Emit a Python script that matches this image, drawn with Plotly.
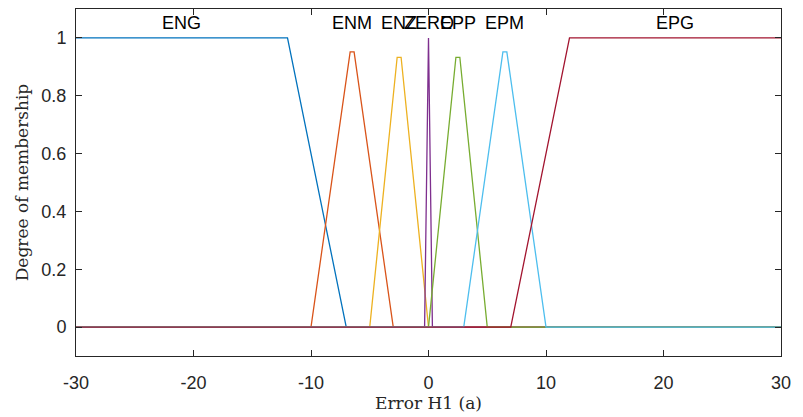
import plotly.graph_objects as go

# Membership function vertices
names = ["ENG", "ENM", "ENZ", "ZERO", "EPP", "EPM", "EPG"]
eng_x = [-30, -12, -7, 30]
eng_y = [1, 1, 0, 0]
enm_x = [-30, -10, -6.667, -6.333, -3, 30]
enm_y = [0, 0, 0.952, 0.952, 0, 0]
enz_x = [-30, -5, -2.667, -2.333, 0, 30]
enz_y = [0, 0, 0.933, 0.933, 0, 0]
zero_x = [-30, -0.333, 0, 0.333, 30]
zero_y = [0, 0, 1, 0, 0]
epp_x = [-30, 0, 2.333, 2.667, 5, 30]
epp_y = [0, 0, 0.933, 0.933, 0, 0]
epm_x = [-30, 3, 6.333, 6.667, 10, 30]
epm_y = [0, 0, 0.952, 0.952, 0, 0]
epg_x = [-30, 7, 12, 30]
epg_y = [0, 0, 1, 1]

label_x = [-21, -6.5, -2.5, 0, 2.5, 6.5, 21]
label_y = 1.053

x_ticks = [-30, -20, -10, 0, 10, 20, 30]
x_tick_text = ["-30", "-20", "-10", "0", "10", "20", "30"]
y_ticks = [0, 0.2, 0.4, 0.6, 0.8, 1]
y_tick_text = ["0", "0.2", "0.4", "0.6", "0.8", "1"]

colors = ["#0072BD", "#D95319", "#EDB120", "#7E2F8E", "#77AC30", "#4DBEEE", "#A2142F"]
xs = [eng_x, enm_x, enz_x, zero_x, epp_x, epm_x, epg_x]
ys = [eng_y, enm_y, enz_y, zero_y, epp_y, epm_y, epg_y]

fig = go.Figure()
for n, x, y, c in zip(names, xs, ys, colors):
    fig.add_trace(go.Scatter(x=x, y=y, mode="lines", name=n,
                             line=dict(color=c, width=1.3), hoverinfo="skip"))

for n, lx in zip(names, label_x):
    fig.add_annotation(x=lx, y=label_y, text=n, showarrow=False,
                       xanchor="center", yanchor="middle",
                       font=dict(family="Liberation Sans, Arial, sans-serif", size=18, color="#000000"))

axis_common = dict(showline=True, linecolor="#262626", linewidth=1, mirror="ticks",
                   ticks="inside", ticklen=6, tickwidth=1, tickcolor="#262626",
                   showgrid=False, zeroline=False, automargin=False,
                   tickfont=dict(family="Liberation Sans, Arial, sans-serif", size=18, color="#262626"))

fig.update_xaxes(range=[-30, 30], tickvals=x_ticks, ticktext=x_tick_text, ticklabelstandoff=10,
                 title=dict(text="Error H1 (a)", standoff=0,
                            font=dict(family="DejaVu Serif, serif", size=17, color="#262626")),
                 **axis_common)
fig.update_yaxes(range=[-0.1, 1.1], tickvals=y_ticks, ticktext=y_tick_text, ticklabelstandoff=5,
                 title=dict(text="Degree of membership", standoff=8,
                            font=dict(family="DejaVu Serif, serif", size=17, color="#262626")),
                 **axis_common)

fig.update_layout(width=803, height=417, showlegend=False,
                  margin=dict(l=76, r=22, t=9, b=61),
                  plot_bgcolor="white", paper_bgcolor="white")

fig.write_html("out.html", config={"displayModeBar": False},
               post_script="document.body.style.margin='0';")
